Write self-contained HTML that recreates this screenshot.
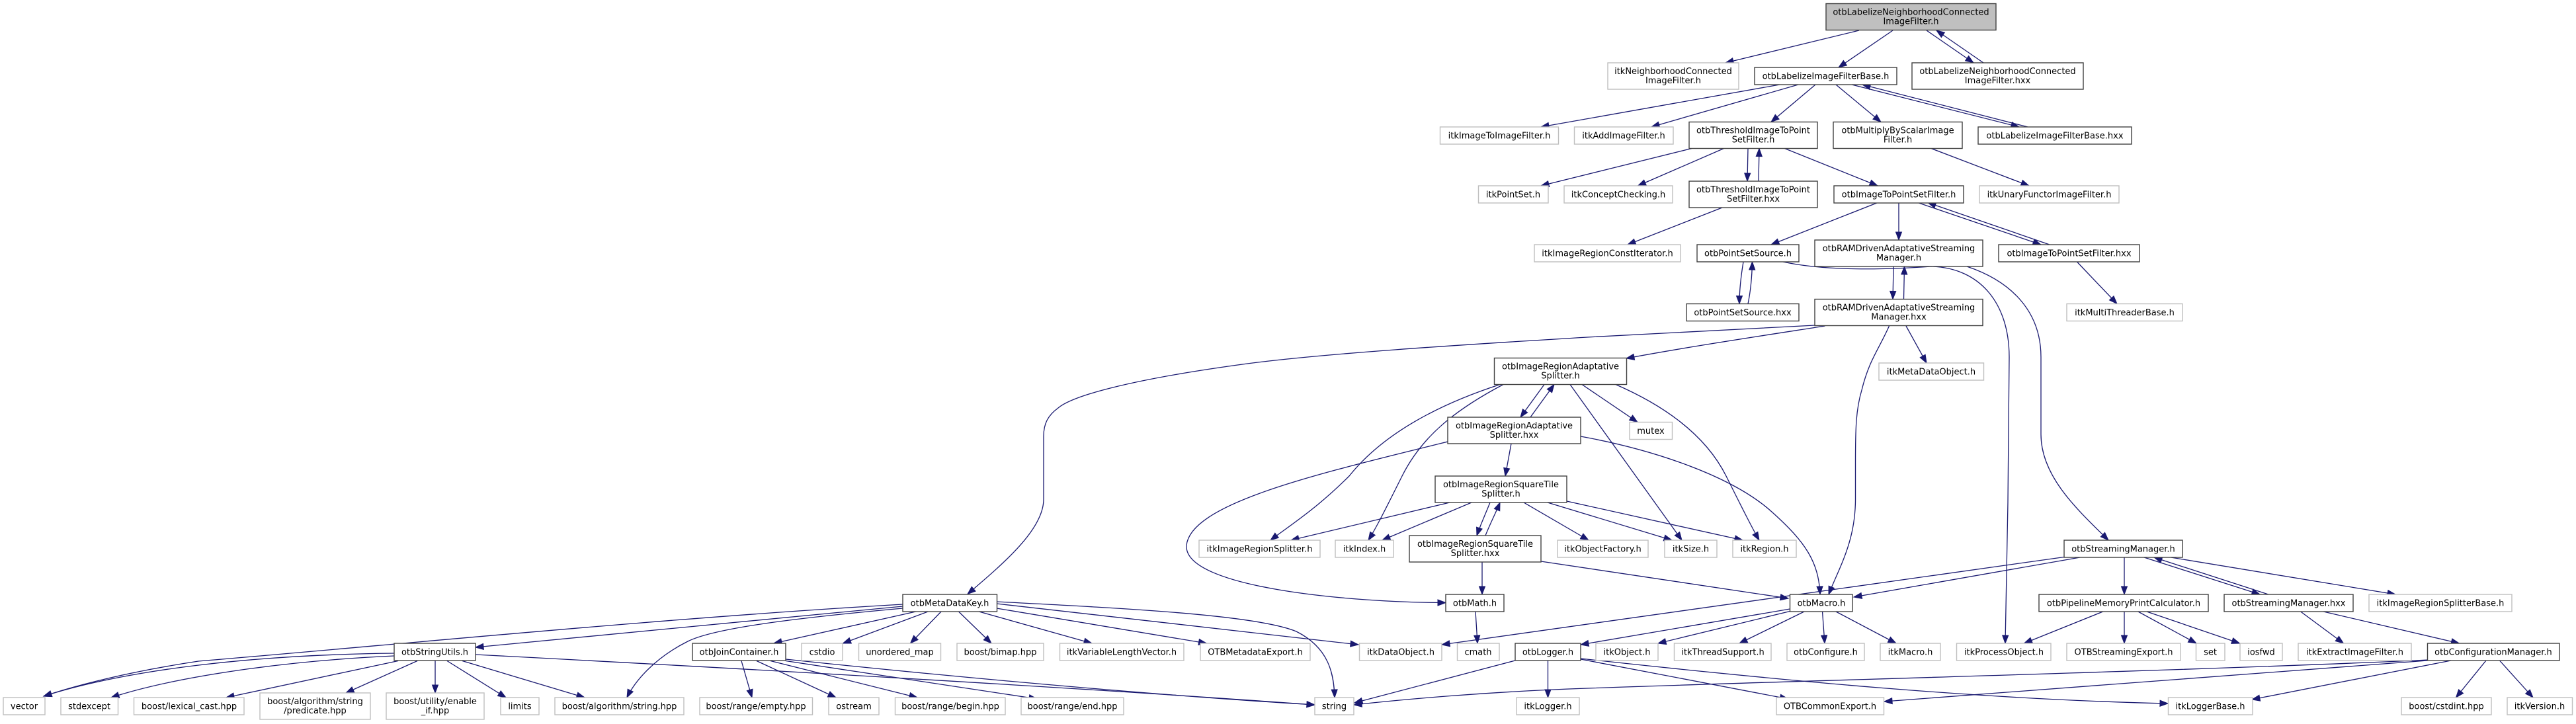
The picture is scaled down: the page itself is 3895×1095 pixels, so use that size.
<!DOCTYPE html>
<html>
<head>
<meta charset="utf-8">
<style>
html,body{margin:0;padding:0;background:#ffffff;}
svg{display:block;}
text{font-family:"DejaVu Sans","Liberation Sans",sans-serif;font-size:13px;fill:#000;}
</style>
</head>
<body>
<svg width="3895" height="1095" viewBox="0 0 3895 1095" xmlns="http://www.w3.org/2000/svg">
<defs>
<marker id="a" markerUnits="userSpaceOnUse" markerWidth="14" markerHeight="11" refX="12" refY="4.5" orient="auto" overflow="visible">
<path d="M0,0L12,4.5L0,9z" fill="#191970" stroke="#191970" stroke-width="1"/>
</marker>
</defs>
<rect x="0" y="0" width="3895" height="1095" fill="#fff"/>

<g fill="none" stroke="#191970" stroke-width="1.3" marker-end="url(#a)">
<path d="M2811,46 L2609,95"/>
<path d="M2862,46 L2780,102"/>
<path d="M2913,46 L2984,95"/>
<path d="M2999,95 L2928,46"/>
<path d="M2691,128 L2330,192"/>
<path d="M2719,128 L2497,192"/>
<path d="M2745,128 L2678,184.5"/>
<path d="M2776,128 L2844,184.5"/>
<path d="M2800,128 L3053,192"/>
<path d="M3066,192 L2816,128"/>
<path d="M2558,224.5 L2330,281"/>
<path d="M2606.5,224.5 L2476.5,281"/>
<path d="M2643,224.5 L2642,274"/>
<path d="M2659,274 L2660,224.5"/>
<path d="M2698.5,224.5 L2839,281"/>
<path d="M2920,224.5 L3068,281"/>
<path d="M2604,314 L2461,370"/>
<path d="M2839,306.5 L2678,370"/>
<path d="M2871,306.5 L2871,363"/>
<path d="M2900,306.5 L3086,370"/>
<path d="M3099,370 L2915,306.5"/>
<path d="M3140.5,396 L3201,459.5"/>
<path d="M2636,396 C2632,420 2630,440 2630,459.5"/>
<path d="M2643,459.5 C2647,440 2649,420 2649.5,396"/>
<path d="M2696,396 C2760,410 2850,408 2920,403 C2995,405 3038,460 3038,540 L3036,760 L3032,973"/>
<path d="M2863,403 L2862,452.5"/>
<path d="M2878.5,452.5 L2879.5,403"/>
<path d="M2974,403 C3040,425 3086,470 3086,540 L3086,657 C3086,720 3140,770 3188,817"/>
<path d="M2759.5,493 C2650,510 2550,525 2459,542"/>
<path d="M2744,492 L2400,510 C2200,522 2000,535 1886,550 C1700,575 1620,600 1600,617 C1585,628 1578,640 1578,660 L1578,755 C1578,800 1520,850 1463,898.5"/>
<path d="M2856.5,493 C2840,530 2826,545 2815,590 C2806,620 2805.5,650 2805.5,700 L2805.5,755 C2805.5,820 2780,860 2765,899"/>
<path d="M2882,493 L2913,549"/>
<path d="M2268,581.5 C2150,620 2080,670 2040,720 C1990,770 1950,795 1921,817"/>
<path d="M2273,581.5 C2200,620 2150,660 2120,720 C2095,770 2080,800 2069,817"/>
<path d="M2335,581.5 L2299,631"/>
<path d="M2314,631 L2350,581.5"/>
<path d="M2374,581.5 L2543,817"/>
<path d="M2443,581.5 C2520,615 2580,660 2610,720 C2635,770 2650,800 2660,817"/>
<path d="M2392,581.5 L2476,638.5"/>
<path d="M2189,668 C2000,715 1800,760 1794,825 C1790,890 2050,911.5 2186,911.5"/>
<path d="M2285,671 L2276,720"/>
<path d="M2390,660 C2500,680 2620,720 2680,775 C2730,820 2750,850 2752,899"/>
<path d="M2192,760 L1952,817"/>
<path d="M2225,760 L2090,817"/>
<path d="M2253,760 C2245,780 2238,795 2233,810"/>
<path d="M2246,810 C2254,790 2262,775 2268,760"/>
<path d="M2304,760 L2402,817"/>
<path d="M2340,760 L2528,817"/>
<path d="M2369,758 L2635,817"/>
<path d="M2241,850 L2241,899"/>
<path d="M2330,849 L2704,905"/>
<path d="M2231,924.5 L2234,973"/>
<path d="M2706.5,921 L2390,975"/>
<path d="M2706.5,924.5 L2507,973"/>
<path d="M2729,924.5 L2630,973"/>
<path d="M2755.5,924.5 L2759,973"/>
<path d="M2775,924.5 L2867,973"/>
<path d="M3145,843 L2803,903"/>
<path d="M3121,842.5 L2180,975"/>
<path d="M3212,843 L3212,899"/>
<path d="M3242,843 L3417,899"/>
<path d="M3430,899 L3257,843"/>
<path d="M3282.5,843 L3622,899"/>
<path d="M3181,924.5 L3060.5,973"/>
<path d="M3212,924.5 L3212,973"/>
<path d="M3232,924.5 L3321,973"/>
<path d="M3244.5,924.5 L3386.5,973"/>
<path d="M3478,924.5 L3543.5,973"/>
<path d="M3511,924.5 L3718.5,973"/>
<path d="M3759,999 L3713.5,1055"/>
<path d="M3779.5,999 L3830,1055"/>
<path d="M3706,999 L3405,1058"/>
<path d="M3670.5,999 L2849,1061"/>
<path d="M3672,998 C3300,1015 2700,1030 2400,1041 C2250,1046 2120,1058 2047,1066"/>
<path d="M2291,999 L2048,1063"/>
<path d="M2340.5,999 L2340.5,1055"/>
<path d="M2390,997 L2703.5,1057"/>
<path d="M2390,996 C2700,1030 3000,1058 3278,1064"/>
<path d="M1365,917 L719,979"/>
<path d="M1365,914 C1000,935 600,975 300,1000 C200,1015 120,1035 66,1053"/>
<path d="M1365,920 C1200,935 1080,950 1040,970 C990,995 960,1030 948,1055"/>
<path d="M1387,924.5 L1170,973"/>
<path d="M1404.5,924.5 L1274.5,973"/>
<path d="M1423.5,924.5 L1376.5,973"/>
<path d="M1449,924.5 L1499,973"/>
<path d="M1478.5,924.5 L1651,973"/>
<path d="M1507,920 L1824.5,973"/>
<path d="M1507,913 L2054,975"/>
<path d="M1507,910 C1700,920 1900,930 1960,955 C2010,980 2017,1020 2018,1055"/>
<path d="M719,990 C1100,1010 1600,1038 1988,1066"/>
<path d="M596,988 C400,990 200,1010 66,1053"/>
<path d="M596,992 C420,1000 260,1025 168,1055"/>
<path d="M602,999.5 L342,1055"/>
<path d="M631,999.5 L523,1048"/>
<path d="M658,999.5 L658,1048"/>
<path d="M676,999.5 L765,1055"/>
<path d="M699,999.5 L884,1055"/>
<path d="M1121,999.5 L1137,1055"/>
<path d="M1144,999.5 L1264,1055"/>
<path d="M1165,999.5 L1387,1055"/>
<path d="M1188,999.5 L1568,1057"/>
<path d="M1188,997 C1500,1030 1800,1055 1988,1066"/>
</g>

<!-- dark bordered nodes -->
<g fill="#fff" stroke="#404040" stroke-width="1.4">
<rect x="2761" y="5.5" width="257" height="40" fill="#bfbfbf"/>
<rect x="2653" y="102" width="215" height="26"/>
<rect x="2891" y="95" width="259" height="40"/>
<rect x="2554" y="184.5" width="194" height="40"/>
<rect x="2772" y="184.5" width="195" height="40"/>
<rect x="2991" y="192" width="232" height="26"/>
<rect x="2554" y="274" width="194" height="40"/>
<rect x="2773" y="281" width="196" height="26"/>
<rect x="2566" y="370" width="154" height="26"/>
<rect x="2744" y="363" width="254" height="40"/>
<rect x="3022" y="370" width="213" height="26"/>
<rect x="2550" y="459.5" width="170" height="26"/>
<rect x="2744" y="452.5" width="254" height="40"/>
<rect x="2259.5" y="541.5" width="200" height="40"/>
<rect x="2189" y="631" width="201" height="40"/>
<rect x="2170" y="720" width="199" height="40"/>
<rect x="2131" y="810" width="199" height="40"/>
<rect x="3121" y="817" width="179" height="26"/>
<rect x="1365" y="899" width="142.5" height="26"/>
<rect x="2186" y="899" width="88" height="26"/>
<rect x="2706.5" y="899" width="94.5" height="26"/>
<rect x="3083" y="899" width="256" height="26"/>
<rect x="3363" y="899" width="195" height="26"/>
<rect x="596" y="973" width="123" height="26"/>
<rect x="1047" y="973" width="141" height="26"/>
<rect x="2291" y="973" width="99" height="26"/>
<rect x="3670.5" y="973" width="199.5" height="26"/>
</g>

<!-- grey bordered (external) nodes -->
<g fill="#fff" stroke="#bfbfbf" stroke-width="1.4">
<rect x="2431" y="95" width="198" height="40"/>
<rect x="2177.5" y="192" width="179" height="26"/>
<rect x="2380.5" y="192" width="149.5" height="26"/>
<rect x="2235.5" y="281" width="105.5" height="26"/>
<rect x="2365" y="281" width="164" height="26"/>
<rect x="2993" y="281" width="211" height="26"/>
<rect x="2320" y="370" width="221" height="26"/>
<rect x="3125" y="459.5" width="175" height="26"/>
<rect x="2841" y="549" width="158.5" height="26"/>
<rect x="2464" y="638.5" width="64.5" height="26"/>
<rect x="1813" y="817" width="183" height="26"/>
<rect x="2019" y="817" width="88" height="26"/>
<rect x="2355" y="817" width="137" height="26"/>
<rect x="2517" y="817" width="79" height="26"/>
<rect x="2620" y="817" width="96" height="26"/>
<rect x="3582" y="899" width="216" height="26"/>
<rect x="1212" y="973" width="62" height="26"/>
<rect x="1298.5" y="973" width="124" height="26"/>
<rect x="1447" y="973" width="131" height="26"/>
<rect x="1602.5" y="973" width="187.5" height="26"/>
<rect x="1815" y="973" width="166" height="26"/>
<rect x="2055.5" y="973" width="124.5" height="26"/>
<rect x="2203.5" y="973" width="63.5" height="26"/>
<rect x="2413" y="973" width="94" height="26"/>
<rect x="2531.5" y="973" width="146.5" height="26"/>
<rect x="2702" y="973" width="117" height="26"/>
<rect x="2843" y="973" width="91" height="26"/>
<rect x="2958.5" y="973" width="142.5" height="26"/>
<rect x="3125" y="973" width="172" height="26"/>
<rect x="3320.5" y="973" width="43.5" height="26"/>
<rect x="3387" y="973" width="64" height="26"/>
<rect x="3475" y="973" width="171" height="26"/>
<rect x="5" y="1055" width="63" height="26"/>
<rect x="92" y="1055" width="86.5" height="26"/>
<rect x="202.5" y="1055" width="166.5" height="26"/>
<rect x="393" y="1048" width="167" height="40"/>
<rect x="584" y="1048" width="148" height="40"/>
<rect x="757" y="1055" width="58" height="26"/>
<rect x="839" y="1055" width="195" height="26"/>
<rect x="1058" y="1055" width="170.5" height="26"/>
<rect x="1253" y="1055" width="76" height="26"/>
<rect x="1353.5" y="1055" width="166.5" height="26"/>
<rect x="1544" y="1055" width="155" height="26"/>
<rect x="1988" y="1055" width="59" height="26"/>
<rect x="2293" y="1055" width="95" height="26"/>
<rect x="2686" y="1055" width="162.5" height="26"/>
<rect x="3278.5" y="1055" width="127.5" height="26"/>
<rect x="3631" y="1055" width="136" height="26"/>
<rect x="3791" y="1055" width="98.5" height="26"/>
</g>

<g text-anchor="middle">
<text x="2889.5" y="22.5">otbLabelizeNeighborhoodConnected</text>
<text x="2889.5" y="36.5">ImageFilter.h</text>

<text x="2530" y="112">itkNeighborhoodConnected</text>
<text x="2530" y="126">ImageFilter.h</text>
<text x="2760.5" y="119.5">otbLabelizeImageFilterBase.h</text>
<text x="3020.5" y="112">otbLabelizeNeighborhoodConnected</text>
<text x="3020.5" y="126">ImageFilter.hxx</text>

<text x="2267" y="209.5">itkImageToImageFilter.h</text>
<text x="2455" y="209.5">itkAddImageFilter.h</text>
<text x="2651" y="201.5">otbThresholdImageToPoint</text>
<text x="2651" y="215.5">SetFilter.h</text>
<text x="2869.5" y="201.5">otbMultiplyByScalarImage</text>
<text x="2869.5" y="215.5">Filter.h</text>
<text x="3107" y="209.5">otbLabelizeImageFilterBase.hxx</text>

<text x="2288" y="298.5">itkPointSet.h</text>
<text x="2447" y="298.5">itkConceptChecking.h</text>
<text x="2651" y="291">otbThresholdImageToPoint</text>
<text x="2651" y="305">SetFilter.hxx</text>
<text x="2871" y="298.5">otbImageToPointSetFilter.h</text>
<text x="3098.5" y="298.5">itkUnaryFunctorImageFilter.h</text>

<text x="2430.5" y="387.5">itkImageRegionConstIterator.h</text>
<text x="2643" y="387.5">otbPointSetSource.h</text>
<text x="2871" y="380">otbRAMDrivenAdaptativeStreaming</text>
<text x="2871" y="394">Manager.h</text>
<text x="3128.5" y="387.5">otbImageToPointSetFilter.hxx</text>

<text x="2635" y="477">otbPointSetSource.hxx</text>
<text x="2871" y="469.5">otbRAMDrivenAdaptativeStreaming</text>
<text x="2871" y="483.5">Manager.hxx</text>
<text x="3212.5" y="477">itkMultiThreaderBase.h</text>

<text x="2359.5" y="558.5">otbImageRegionAdaptative</text>
<text x="2359.5" y="572.5">Splitter.h</text>
<text x="2920" y="566.5">itkMetaDataObject.h</text>

<text x="2289.5" y="648">otbImageRegionAdaptative</text>
<text x="2289.5" y="662">Splitter.hxx</text>
<text x="2496" y="656">mutex</text>

<text x="2269.5" y="737">otbImageRegionSquareTile</text>
<text x="2269.5" y="751">Splitter.h</text>

<text x="1904.5" y="834.5">itkImageRegionSplitter.h</text>
<text x="2063" y="834.5">itkIndex.h</text>
<text x="2230.5" y="827">otbImageRegionSquareTile</text>
<text x="2230.5" y="841">Splitter.hxx</text>
<text x="2423.5" y="834.5">itkObjectFactory.h</text>
<text x="2556.5" y="834.5">itkSize.h</text>
<text x="2668" y="834.5">itkRegion.h</text>
<text x="3210.5" y="834.5">otbStreamingManager.h</text>

<text x="1436" y="916.5">otbMetaDataKey.h</text>
<text x="2230" y="916.5">otbMath.h</text>
<text x="2754" y="916.5">otbMacro.h</text>
<text x="3211" y="916.5">otbPipelineMemoryPrintCalculator.h</text>
<text x="3460.5" y="916.5">otbStreamingManager.hxx</text>
<text x="3690" y="916.5">itkImageRegionSplitterBase.h</text>

<text x="657.5" y="990.5">otbStringUtils.h</text>
<text x="1117.5" y="990.5">otbJoinContainer.h</text>
<text x="1243" y="990.5">cstdio</text>
<text x="1360.5" y="990.5">unordered_map</text>
<text x="1512.5" y="990.5">boost/bimap.hpp</text>
<text x="1696" y="990.5">itkVariableLengthVector.h</text>
<text x="1898" y="990.5">OTBMetadataExport.h</text>
<text x="2118" y="990.5">itkDataObject.h</text>
<text x="2235" y="990.5">cmath</text>
<text x="2340.5" y="990.5">otbLogger.h</text>
<text x="2460" y="990.5">itkObject.h</text>
<text x="2605" y="990.5">itkThreadSupport.h</text>
<text x="2760.5" y="990.5">otbConfigure.h</text>
<text x="2888.5" y="990.5">itkMacro.h</text>
<text x="3030" y="990.5">itkProcessObject.h</text>
<text x="3211" y="990.5">OTBStreamingExport.h</text>
<text x="3342" y="990.5">set</text>
<text x="3419" y="990.5">iosfwd</text>
<text x="3560.5" y="990.5">itkExtractImageFilter.h</text>
<text x="3770" y="990.5">otbConfigurationManager.h</text>

<text x="36.5" y="1072.5">vector</text>
<text x="135" y="1072.5">stdexcept</text>
<text x="286" y="1072.5">boost/lexical_cast.hpp</text>
<text x="476.5" y="1065">boost/algorithm/string</text>
<text x="476.5" y="1079">/predicate.hpp</text>
<text x="658" y="1065">boost/utility/enable</text>
<text x="658" y="1079">_if.hpp</text>
<text x="786" y="1072.5">limits</text>
<text x="936.5" y="1072.5">boost/algorithm/string.hpp</text>
<text x="1143" y="1072.5">boost/range/empty.hpp</text>
<text x="1291" y="1072.5">ostream</text>
<text x="1437" y="1072.5">boost/range/begin.hpp</text>
<text x="1621.5" y="1072.5">boost/range/end.hpp</text>
<text x="2017.5" y="1072.5">string</text>
<text x="2340.5" y="1072.5">itkLogger.h</text>
<text x="2767" y="1072.5">OTBCommonExport.h</text>
<text x="3342" y="1072.5">itkLoggerBase.h</text>
<text x="3699" y="1072.5">boost/cstdint.hpp</text>
<text x="3840" y="1072.5">itkVersion.h</text>
</g>
</svg>
</body>
</html>
